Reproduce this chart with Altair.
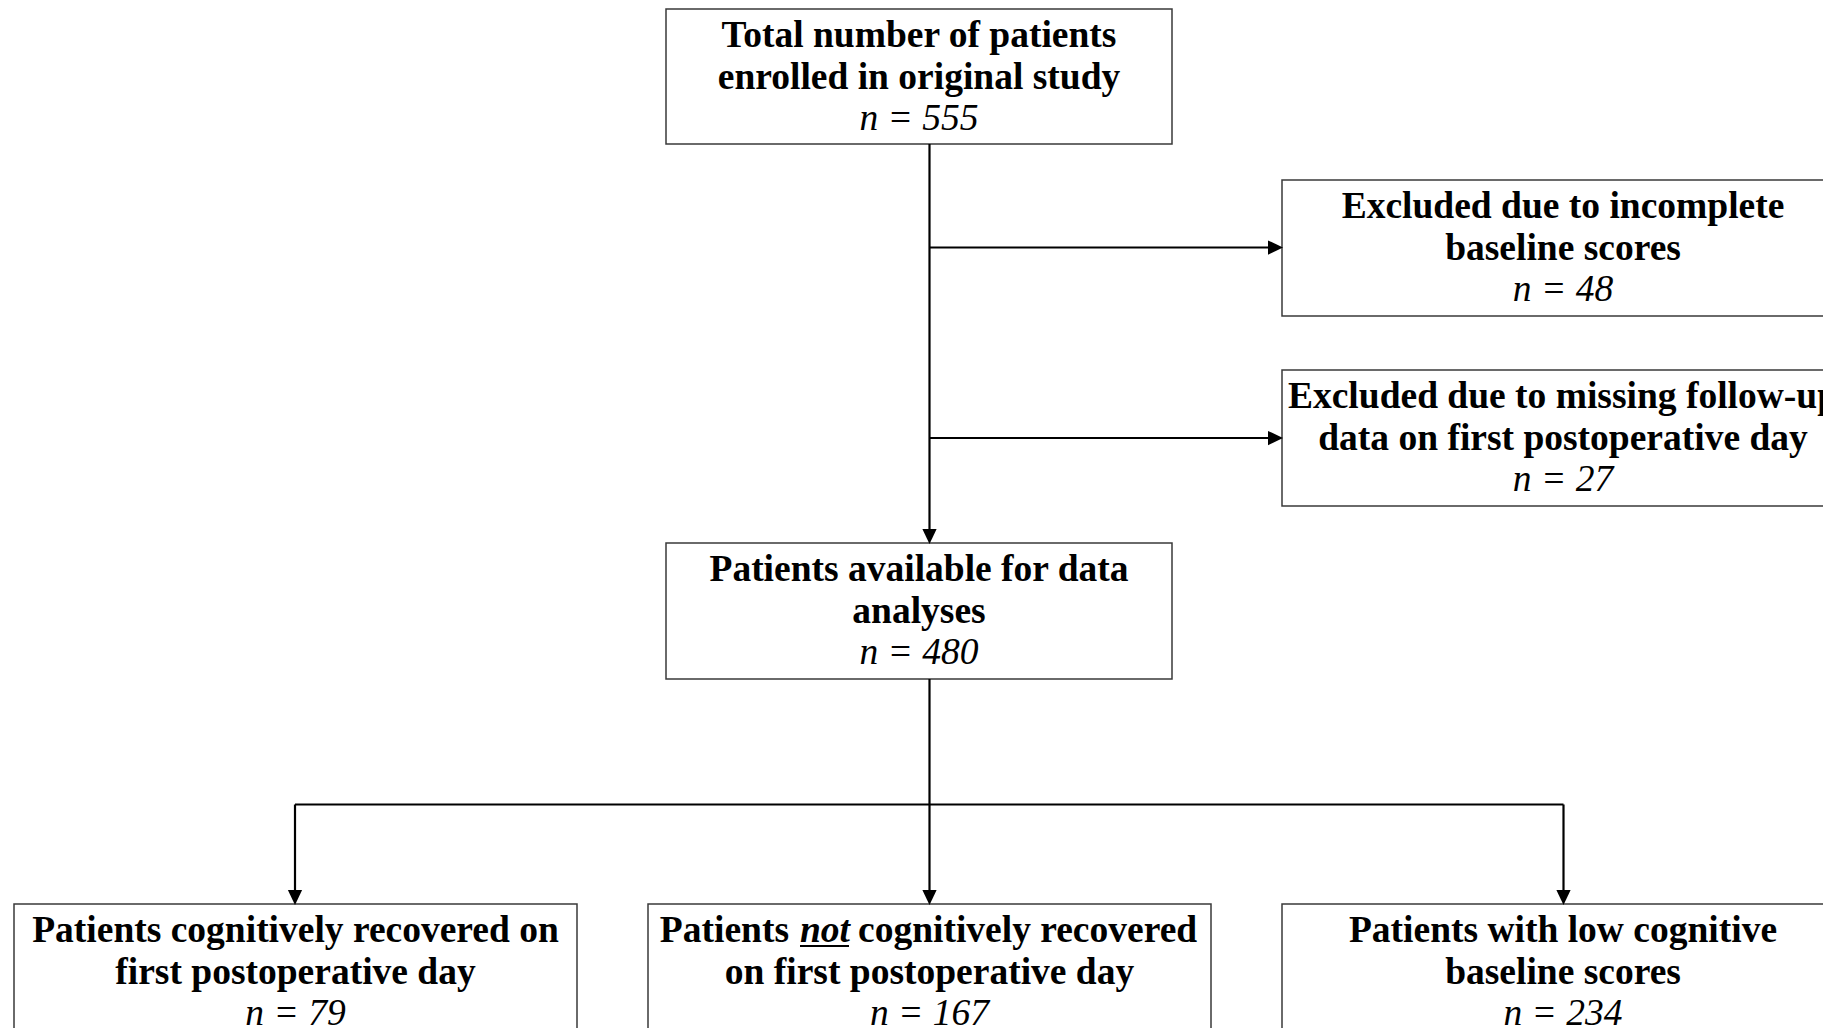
import altair as alt
import pandas as pd

# ---- content ----
box_ids = ["enrolled", "excl_baseline", "excl_followup", "available",
           "recovered", "not_recovered", "low_baseline"]
box_line1 = ["Total number of patients",
             "Excluded due to incomplete",
             "Excluded due to missing follow-up",
             "Patients available for data",
             "Patients cognitively recovered on",
             "",  # rich text, see segments below
             "Patients with low cognitive"]
box_line2 = ["enrolled in original study",
             "baseline scores",
             "data on first postoperative day",
             "analyses",
             "first postoperative day",
             "on first postoperative day",
             "baseline scores"]
box_n = [555, 48, 27, 480, 79, 167, 234]

# rich first line of the "not recovered" box
seg_text = ["Patients", "not", "cognitively recovered"]
seg_style = ["normal", "italic", "normal"]

# ---- layout (reference pixel coordinates) ----
box_left = [666, 1282, 1282, 666, 14, 648, 1282]
box_right = [1172, 1845, 1845, 1172, 577, 1211, 1845]
box_top = [9, 180, 370, 543, 904, 904, 904]
box_bottom = [144, 316, 506, 679, 1050, 1050, 1050]
box_cx = [919, 1563, 1563, 919, 295.5, 929.5, 1563]
first_baseline = 38
line_gap = 41.5

seg_x = [789, 825, 858]
seg_align = ["right", "center", "left"]

# connectors
conn_x1 = [929.5, 929.5, 929.5, 929.5, 295, 295, 929.5, 1563.5]
conn_y1 = [144, 247.5, 438, 679, 804.5, 804.5, 804.5, 804.5]
conn_x2 = [929.5, 1270, 1270, 929.5, 1563.5, 295, 929.5, 1563.5]
conn_y2 = [532, 247.5, 438, 804.5, 804.5, 892, 892, 892]

arrow_x = [929.5, 1283, 1283, 295, 929.5, 1563.5]
arrow_y = [544, 247.5, 438, 905, 905, 905]
arrow_dir = ["down", "right", "right", "down", "down", "down"]

underline_x1, underline_x2, underline_y = 800, 849, 946

# ---- tables ----
boxes = pd.DataFrame({"id": box_ids, "x": box_left, "x2": box_right,
                      "y": box_top, "y2": box_bottom})

rows = []
for i, bid in enumerate(box_ids):
    b = box_top[i] + first_baseline
    if box_line1[i]:
        rows.append({"x": box_cx[i], "y": b, "t": box_line1[i], "kind": "bold"})
    rows.append({"x": box_cx[i], "y": b + line_gap, "t": box_line2[i], "kind": "bold"})
    rows.append({"x": box_cx[i], "y": b + 2 * line_gap, "t": f"n = {box_n[i]}", "kind": "n"})
texts = pd.DataFrame(rows)

seg_rows = []
nb = box_top[5] + first_baseline
for t, s, x, a in zip(seg_text, seg_style, seg_x, seg_align):
    seg_rows.append({"x": x, "y": nb, "t": t, "style": s, "align": a})
segs = pd.DataFrame(seg_rows)

conns = pd.DataFrame({"x": conn_x1, "y": conn_y1, "x2": conn_x2, "y2": conn_y2})
arrows = pd.DataFrame({"x": arrow_x, "y": arrow_y, "dir": arrow_dir})
underline = pd.DataFrame({"x": [underline_x1], "x2": [underline_x2], "y": [underline_y]})

xs = alt.Scale(domain=[8, 1823], nice=False, zero=False)
ys = alt.Scale(domain=[8, 1028], nice=False, zero=False, reverse=True)
X = lambda f="x": alt.X(f"{f}:Q", scale=xs, axis=None)
Y = lambda f="y": alt.Y(f"{f}:Q", scale=ys, axis=None)

FONT = "Liberation Serif"
FS = 37.5

rects = alt.Chart(boxes).mark_rect(fill="white", stroke="#3a3a3a", strokeWidth=1.5).encode(
    x=X(), x2="x2:Q", y=Y(), y2="y2:Q")

lines = alt.Chart(conns).mark_rule(color="black", strokeWidth=2.2).encode(
    x=X(), x2="x2:Q", y=Y(), y2="y2:Q")

right_path = "M 0 0 L -2 -0.95 L -2 0.95 Z"
down_path = "M 0 0 L -0.95 -2 L 0.95 -2 Z"
arrow_r = alt.Chart(arrows).transform_filter("datum.dir == 'right'").mark_point(
    shape=right_path, size=225, filled=True, color="black", opacity=1, strokeWidth=0).encode(x=X(), y=Y())
arrow_d = alt.Chart(arrows).transform_filter("datum.dir == 'down'").mark_point(
    shape=down_path, size=225, filled=True, color="black", opacity=1, strokeWidth=0).encode(x=X(), y=Y())

bold_text = alt.Chart(texts).transform_filter("datum.kind == 'bold'").mark_text(
    font=FONT, fontSize=FS, fontWeight="bold", align="center", baseline="alphabetic", color="black"
).encode(x=X(), y=Y(), text="t:N")
n_text = alt.Chart(texts).transform_filter("datum.kind == 'n'").mark_text(
    font=FONT, fontSize=FS, fontStyle="italic", align="center", baseline="alphabetic", color="black"
).encode(x=X(), y=Y(), text="t:N")

seg_layers = []
for i in range(len(seg_text)):
    seg_layers.append(
        alt.Chart(segs.iloc[[i]]).mark_text(
            font=FONT, fontSize=FS, fontWeight="bold", fontStyle=seg_style[i],
            align=seg_align[i], baseline="alphabetic", color="black"
        ).encode(x=X(), y=Y(), text="t:N"))

ul = alt.Chart(underline).mark_rule(color="black", strokeWidth=2).encode(x=X(), x2="x2:Q", y=Y())

chart = alt.layer(rects, lines, arrow_r, arrow_d, bold_text, n_text, *seg_layers, ul).properties(
    width=1815, height=1020, padding=0, autosize="none"
).configure_view(stroke=None)

chart.save("out.html", embed_options={"renderer": "svg", "actions": False})
